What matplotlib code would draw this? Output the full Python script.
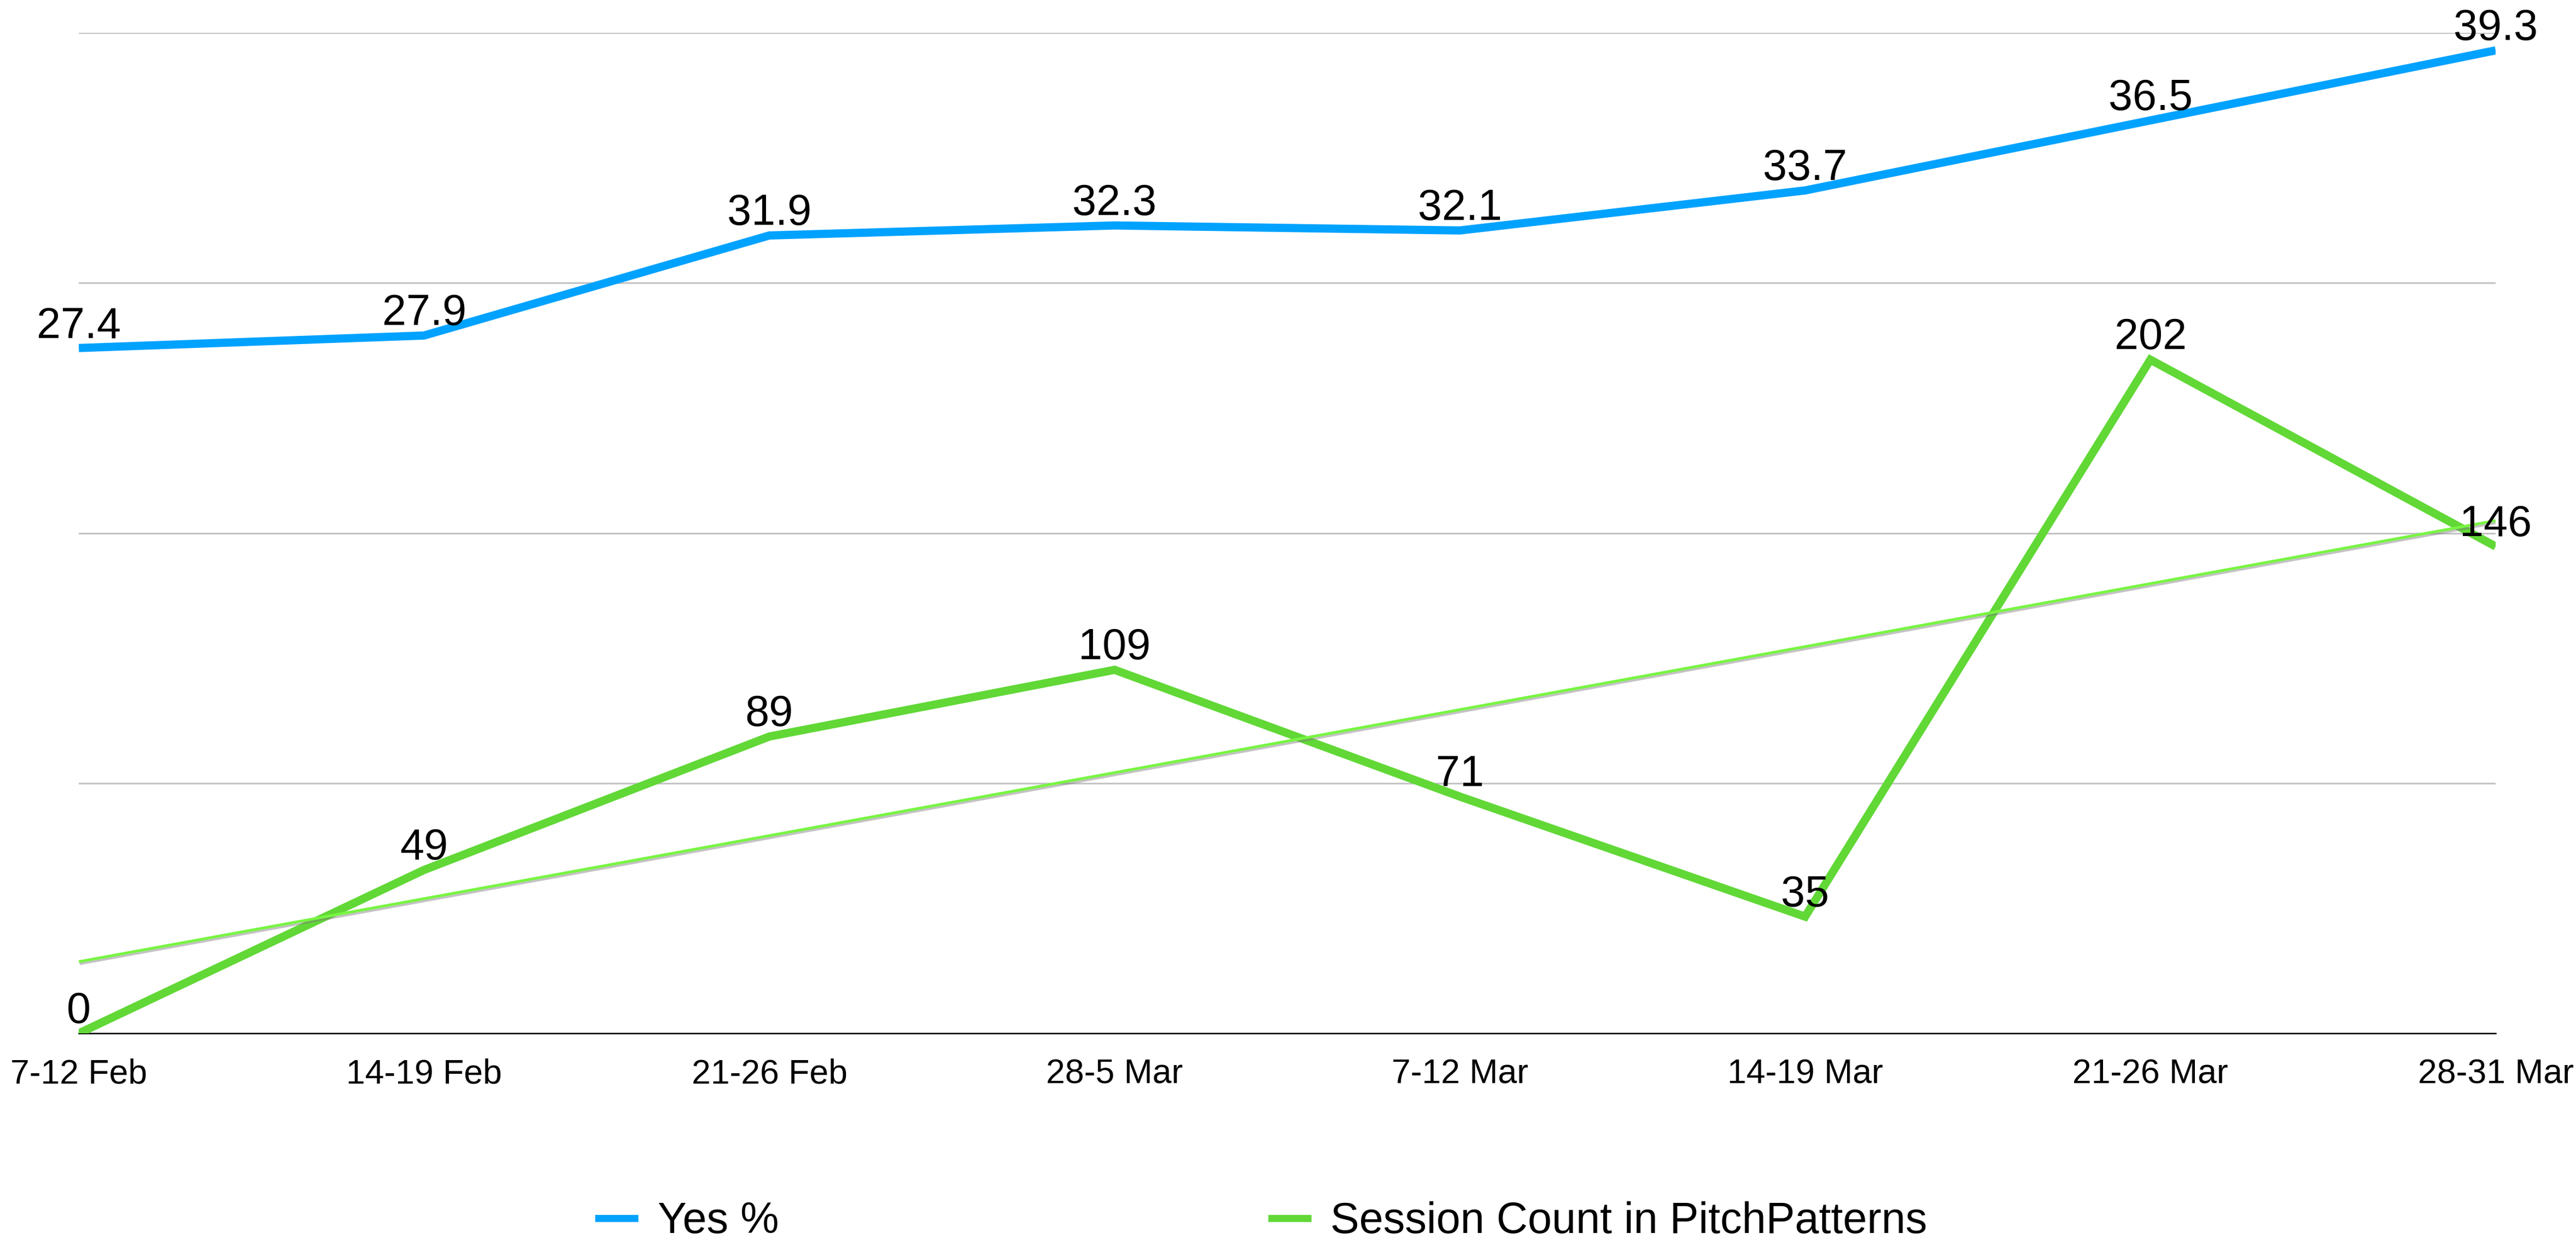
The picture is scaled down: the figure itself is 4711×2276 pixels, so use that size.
import numpy as np
import matplotlib
matplotlib.use("Agg")
from matplotlib import pyplot as plt
from matplotlib import patheffects as pe
from matplotlib.lines import Line2D

# Weekly data
weeks = ["7-12 Feb", "14-19 Feb", "21-26 Feb", "28-5 Mar",
         "7-12 Mar", "14-19 Mar", "21-26 Mar", "28-31 Mar"]
yes_pct = [27.4, 27.9, 31.9, 32.3, 32.1, 33.7, 36.5, 39.3]
sessions = [0, 49, 89, 109, 71, 35, 202, 146]

BLUE = "#00A2FF"
GREEN = "#61D836"
TREND = "#78F542"
GRID = "#C4C4C4"

plt.rcParams['font.family'] = ['Liberation Sans', 'DejaVu Sans']

fig = plt.figure(figsize=(4711 / 300, 2276 / 300), dpi=300)
ax = fig.add_axes([0.0306, 0.170, 0.9382, 0.8036])
ax2 = ax.twinx()

x = np.arange(len(weeks))
ax.set_xlim(0, len(weeks) - 1)
ax.set_ylim(0, 40)
ax2.set_ylim(0, 300)

# gridlines from the left scale, no visible y labels
ax.set_yticks([0, 10, 20, 30, 40])
ax.yaxis.grid(True, color=GRID, linewidth=0.75)
ax.set_axisbelow(True)
for a in (ax, ax2):
    a.tick_params(axis='y', left=False, right=False, labelleft=False, labelright=False)
    for side in ('top', 'left', 'right'):
        a.spines[side].set_visible(False)
ax2.spines['bottom'].set_visible(False)
ax.spines['bottom'].set_color('black')
ax.spines['bottom'].set_linewidth(0.6)

ax.set_xticks(x)
ax.set_xticklabels(weeks, fontsize=15)
ax.tick_params(axis='x', length=0, pad=11)

# Yes % line
ax.plot(x, yes_pct, color=BLUE, lw=3.6, solid_capstyle='butt',
        solid_joinstyle='miter', zorder=3)
for xi, v in zip(x, yes_pct):
    ax.annotate(f"{v:.1f}", (xi, v), xytext=(0, 4.6), textcoords='offset points',
                ha='center', va='baseline', fontsize=19, annotation_clip=False)

# Session count line
ax2.plot(x, sessions, color=GREEN, lw=3.6, solid_capstyle='butt',
         solid_joinstyle='miter', zorder=3)

# linear trendline of the session count
coef = np.polyfit(x, sessions, 1)
ax2.plot(x, np.polyval(coef, x), color=TREND, lw=1.2, solid_capstyle='butt', zorder=4,
         path_effects=[pe.SimpleLineShadow(offset=(0.4, -0.9), shadow_color='#7a7a7a', alpha=0.45),
                       pe.Normal()])

for xi, v in zip(x, sessions):
    ax2.annotate(f"{v}", (xi, v), xytext=(0, 4.6), textcoords='offset points',
                 ha='center', va='baseline', fontsize=19, annotation_clip=False, zorder=5)

handles = [Line2D([], [], color=BLUE, lw=3.1, solid_capstyle='butt'),
           Line2D([], [], color=GREEN, lw=3.1, solid_capstyle='butt')]
fig.legend(handles, ["Yes %", "Session Count in PitchPatterns"], loc='center left',
           bbox_to_anchor=(0.2309, 0.0185), ncol=2, frameon=False, fontsize=19,
           handlelength=1.0, handletextpad=0.45, columnspacing=11.3,
           borderpad=0, borderaxespad=0)

fig.savefig("out.png", dpi=300)
